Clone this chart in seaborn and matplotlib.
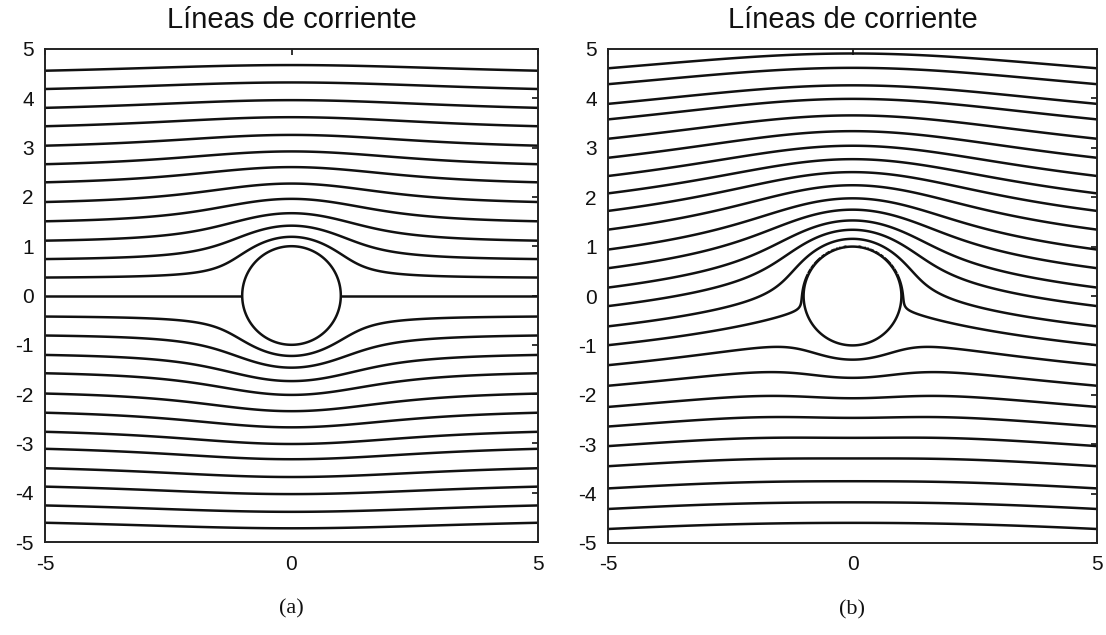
import numpy as np
import matplotlib
matplotlib.use("Agg")
import matplotlib.pyplot as plt
import seaborn as sns

# Potential flow past a circular cylinder: stream function
#   psi = y (1 - a^2 / r^2) + k ln(r / a)
cyl_radius = 1.0
vortex_k_a = 0.0      # (a) no circulation
vortex_k_b = 0.6      # (b) with circulation

# Stream-function values of the plotted streamlines
levels_a_upper = [0.35, 0.71, 1.07, 1.45, 1.83, 2.22, 2.58, 2.95, 3.34, 3.71, 4.09, 4.46]
levels_a_axis = [0.0]
levels_a_lower = [-0.41, -0.78, -1.16, -1.52, -1.92, -2.30, -2.68, -3.02, -3.41, -3.78, -4.16, -4.51]

levels_b = [-3.46, -3.08, -2.69, -2.27, -1.89, -1.52, -1.15, -0.75, -0.36, 0.02,
            0.38, 0.77, 1.13, 1.51, 1.88, 2.28, 2.66, 3.02, 3.38, 3.76,
            4.16, 4.57, 4.90, 5.32, 5.66]

x_ticks = [-5, 0, 5]
y_ticks = [-5, -4, -3, -2, -1, 0, 1, 2, 3, 4, 5]
panel_title = "Líneas de corriente"
panel_tags = ["(a)", "(b)"]

sns.set_theme(style="white")
plt.rcParams.update({
    "font.family": ["Liberation Sans", "DejaVu Sans"],
    "xtick.direction": "in",
    "ytick.direction": "in",
    "xtick.top": True,
    "ytick.right": True,
    "xtick.major.size": 4,
    "ytick.major.size": 4,
    "xtick.major.width": 1.2,
    "ytick.major.width": 1.2,
    "axes.edgecolor": "#222222",
    "axes.linewidth": 1.4,
})

gx = np.linspace(-5, 5, 500)
X, Y = np.meshgrid(gx, gx)
R = np.hypot(X, Y)


def stream_function(k):
    psi = Y * (1 - cyl_radius**2 / R**2) + k * np.log(R / cyl_radius)
    return np.ma.masked_where(R < cyl_radius, psi)


fig = plt.figure(figsize=(11.06, 6.35), dpi=100)
ax_a = fig.add_axes([45 / 1106, 93 / 635, 493 / 1106, 493 / 635])
ax_b = fig.add_axes([608 / 1106, 92 / 635, 489 / 1106, 494 / 635])

panels = [
    (ax_a, vortex_k_a, sorted(levels_a_lower + levels_a_axis + levels_a_upper)),
    (ax_b, vortex_k_b, sorted(levels_b)),
]

for (ax, k, lv), tag in zip(panels, panel_tags):
    psi = stream_function(k)
    ax.contour(X, Y, psi, levels=lv, colors="#111111", linewidths=1.8,
               linestyles="solid")
    # cylinder wall
    ax.contour(X, Y, R, levels=[cyl_radius], colors="#111111", linewidths=1.8)
    ax.set_xlim(-5, 5)
    ax.set_ylim(-5, 5)
    ax.set_xticks(x_ticks)
    ax.set_yticks(y_ticks)
    ax.set_xticklabels([str(v) for v in x_ticks])
    ax.set_yticklabels([str(v) for v in y_ticks])
    ax.tick_params(axis="both", labelsize=15, colors="#111111")
    ax.tick_params(axis="y", pad=8)
    ax.tick_params(axis="x", pad=9)
    ax.set_title(panel_title, fontsize=21, color="#111111", pad=15)
    for s in ax.spines.values():
        s.set_visible(True)
    ax.text(0.5, -0.135, tag, transform=ax.transAxes, ha="center", va="center",
            fontsize=16, color="#111111",
            family=["Liberation Serif", "DejaVu Serif"])

fig.savefig("out.png", dpi=100, facecolor="white")
